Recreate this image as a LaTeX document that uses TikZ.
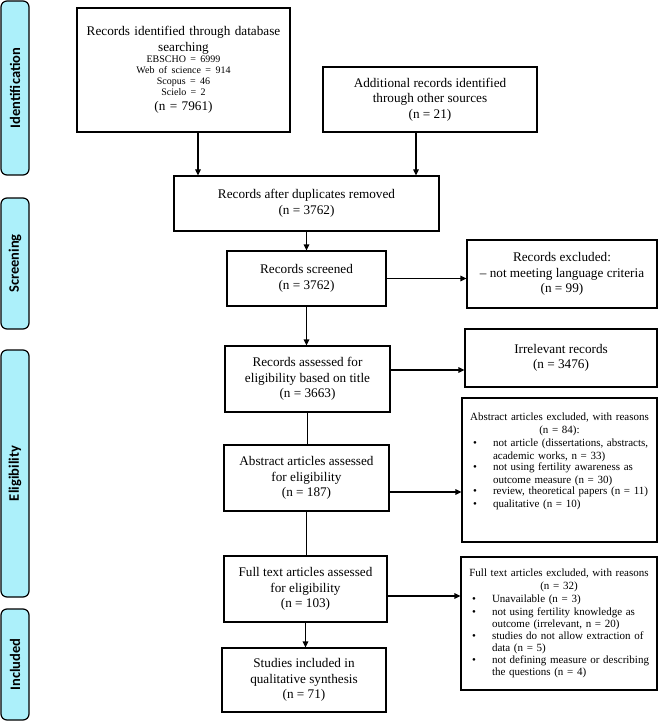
\documentclass[tikz,border=0pt]{standalone}
\usepackage{fontspec}
\setmainfont{Liberation Serif}
\newfontfamily\stagefont{Carlito}
\usetikzlibrary{arrows.meta}

\definecolor{stagecyan}{RGB}{172,240,250}

% bullet line with hanging text
\newcommand{\bitem}[1]{\par\noindent
  \makebox[25pt][l]{\hspace{5pt}\textbullet}%
  \parbox[t]{\dimexpr\linewidth-25pt\relax}{\raggedright #1}}

\begin{document}
\begin{tikzpicture}[x=1pt,y=-1pt,
  stage/.style={draw,line width=1.2pt,fill=stagecyan,rounded corners=6pt,
    rotate=90,minimum height=28pt,inner sep=0pt,
    font=\stagefont\bfseries\fontsize{14.5}{16}\selectfont},
  box/.style={draw,line width=1.2pt,align=center,inner sep=2pt,
    font=\fontsize{13.2}{15.5}\selectfont},
  exbox/.style={draw,line width=1.2pt,inner xsep=6pt,align=left,
    font=\fontsize{11}{12.9}\selectfont},
  arr/.style={line width=1.2pt,-{Triangle[length=6pt,width=5.5pt]}},
  ln/.style={line width=1.2pt}]
\useasboundingbox (0,0) rectangle (658,722);

% stages
\node[stage,minimum width=174pt] (ident) at (15,88) {Identification};
\node[stage,minimum width=131pt] (screen) at (15,263.5) {Screening};
\node[stage,minimum width=247pt] (elig) at (15,473.5) {Eligibility};
\node[stage,minimum width=111pt] (incl) at (15,664.5) {Included};

% main column
\node[box,minimum width=213pt,minimum height=124pt,text width=207pt] (found) at (183.5,70)
  {Records identified through database\\ searching\par
   {\fontsize{10}{11}\selectfont EBSCHO = 6999\\ Web of science = 914\\ Scopus = 46\\ Scielo = 2\par}
   (n = 7961)};
\node[box,minimum width=214pt,minimum height=65pt] (other) at (430,99.5)
  {Additional records identified\\ through other sources\\ (n = 21)};
\node[box,minimum width=265pt,minimum height=55pt] (dupl) at (306.5,203.5)
  {Records after duplicates removed\\ (n = 3762)};
\node[box,minimum width=159pt,minimum height=55pt] (scrd) at (306.5,278.5)
  {Records screened\\ (n = 3762)};
\node[box,minimum width=165pt,minimum height=66pt] (title) at (307.5,379)
  {Records assessed for\\ eligibility based on title\\ (n = 3663)};
\node[box,minimum width=165pt,minimum height=66pt] (abstr) at (306.5,478)
  {Abstract articles assessed\\ for eligibility\\ (n = 187)};
\node[box,minimum width=163pt,minimum height=66pt] (full) at (305.5,589)
  {Full text articles assessed\\ for eligibility\\ (n = 103)};
\node[box,minimum width=164pt,minimum height=64pt] (studies) at (304,680)
  {Studies included in\\ qualitative synthesis\\ (n = 71)};

% exclusions
\node[box,minimum width=190pt,minimum height=68pt] (exlang) at (562,274)
  {Records excluded:\\ -- not meeting language criteria\\ (n = 99)};
\node[box,minimum width=192pt,minimum height=58pt] (exirr) at (561,358)
  {Irrelevant records\\ (n = 3476)};
\node[exbox,minimum width=195pt,minimum height=144pt,text width=183pt] (exabs) at (559.5,470)
  {{\centering Abstract articles excluded, with reasons\\ (n = 84):\par}
   \bitem{not article (dissertations, abstracts,\\ academic works, n = 33)}
   \bitem{not using fertility awareness as\\ outcome measure (n = 30)}
   \bitem{review, theoretical papers (n = 11)}
   \bitem{qualitative (n = 10)}
   \par\vspace{7pt}\mbox{}};
\node[exbox,minimum width=196pt,minimum height=133pt,text width=184pt] (exfull) at (559,623.5)
  {{\centering Full text articles excluded, with reasons\\ (n = 32)\par}
   \bitem{Unavailable (n = 3)}
   \bitem{not using fertility knowledge as\\ outcome (irrelevant, n = 20)}
   \bitem{studies do not allow extraction of\\ data (n = 5)}
   \bitem{not defining measure or describing\\ the questions (n = 4)}};

% connectors
\draw[arr] ([xshift=14.5pt]found.south) -- ([xshift=14.5pt]found.south |- dupl.north);
\draw[arr] ([xshift=-14pt]other.south) -- ([xshift=-14pt]other.south |- dupl.north);
\draw[arr] (dupl.south) -- (dupl.south |- scrd.north);
\draw[arr] (scrd.east) -- (scrd.east -| exlang.west);
\draw[arr] (scrd.south) -- (scrd.south |- title.north);
\draw[arr] ([yshift=9pt]title.east) -- ([yshift=9pt]title.east -| exirr.west);
\draw[ln] (title.south) -- (title.south |- abstr.north);
\draw[arr] ([yshift=-14pt]abstr.east) -- ([yshift=-14pt]abstr.east -| exabs.west);
\draw[ln] (abstr.south) -- (abstr.south |- full.north);
\draw[arr] ([yshift=-7pt]full.east) -- ([yshift=-7pt]full.east -| exfull.west);
\draw[arr] (full.south) -- (full.south |- studies.north);
\end{tikzpicture}
\end{document}
